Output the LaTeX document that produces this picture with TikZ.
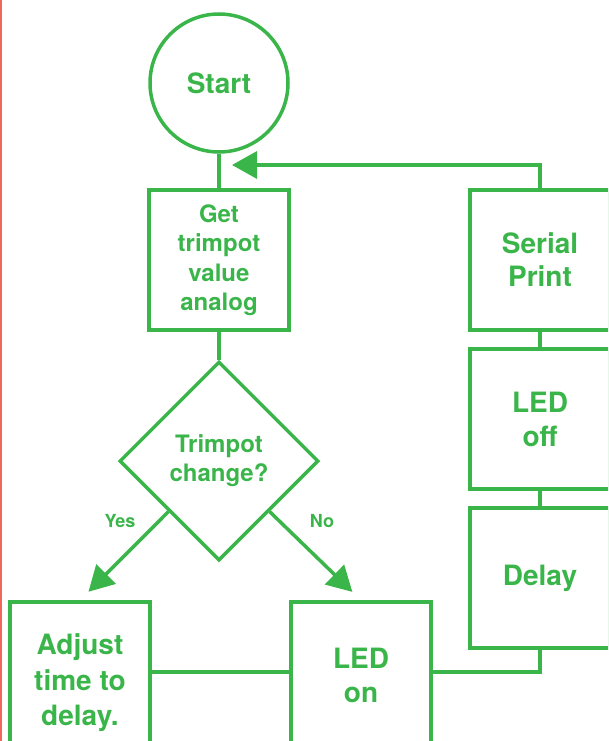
\documentclass[tikz,border=0pt]{standalone}
\usepackage{fontspec}
\setmainfont{TeX Gyre Heros}
\usetikzlibrary{shapes.geometric,arrows.meta}
\definecolor{flowgreen}{RGB}{58,181,74}
\definecolor{edgered}{RGB}{242,104,88}
\begin{document}
\begin{tikzpicture}[x=1pt,y=1pt]
                \tikzstyle{every node}+=[inner sep=0pt, text=flowgreen, align=center]
                \tikzstyle{con}=[draw=flowgreen, line width=3.5pt]
                \tikzstyle{arr}=[con, -{Triangle[length=25pt,width=27pt]}]
                \tikzstyle{term}=[con, circle, minimum size=138pt, font=\bfseries\fontsize{28}{34}\selectfont]
                \tikzstyle{blk}=[con, rectangle, minimum width=140pt, minimum height=140pt, font=\bfseries\fontsize{28}{34}\selectfont]
                \tikzstyle{blksmall}=[blk, font=\bfseries\fontsize{24}{29.5}\selectfont]
                \tikzstyle{dec}=[con, diamond, aspect=1, minimum width=199pt, minimum height=199pt, font=\bfseries\fontsize{24}{29}\selectfont]
                \tikzstyle{lbl}=[font=\bfseries\fontsize{18}{20}\selectfont]
                \useasboundingbox (0,0) rectangle (608,-741);
                \clip (0,0) rectangle (608,-741);
                \fill [edgered] (0,0) rectangle (1.6,-741);
                % left column
                \node [term] (start) at (219,-83) {Start};
                \node [blksmall] (get) at (219,-260) {Get\\trimpot\\value\\analog};
                \node [dec] (chg) at (219,-461) {Trimpot\\change?};
                \node [blk, minimum height=162pt, font=\bfseries\fontsize{28}{35.5}\selectfont] (adj) at (80,-683) {Adjust\\time to\\delay.};
                \node [blk, minimum height=146pt] (ledon) at (361,-675) {LED\\on};
                % right column
                \node [blk, font=\bfseries\fontsize{28}{33}\selectfont] (ser) at (540,-260) {Serial\\Print};
                \node [blk] (ledoff) at (540,-419) {LED\\off};
                \node [blk] (dly) at (540,-578) {Delay};
                \coordinate (join) at (219,-165);
                \coordinate (low) at (0,-672);
                \node [lbl] (yes) at (120,-521) {Yes};
                \node [lbl] (no) at (322,-521) {No};
                % connectors
                \draw [con] (start) -- (get);
                \draw [con] (get) -- (chg);
                \draw [arr, shorten >=12pt] (chg.south west) -- (adj.north);
                \draw [arr, shorten >=12pt] (chg.south east) -- (ledon.north);
                \draw [con] (adj.east |- low) -- (ledon.west |- low);
                \draw [con] (ledon.east |- low) -| (dly);
                \draw [con] (dly) -- (ledoff);
                \draw [con] (ledoff) -- (ser);
                \draw [arr, shorten >=13pt] (ser) |- (join);
            \end{tikzpicture}
\end{document}
